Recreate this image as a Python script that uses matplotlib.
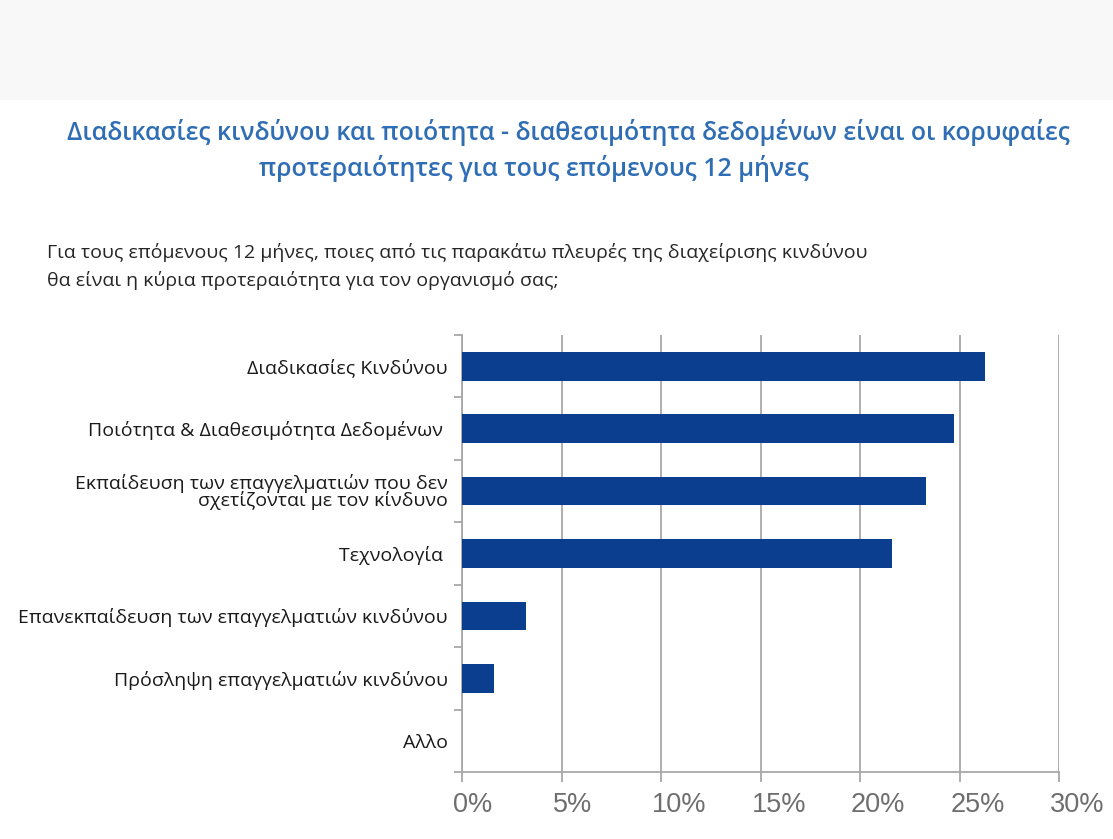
import matplotlib
matplotlib.use("Agg")
import matplotlib.pyplot as plt
import matplotlib.transforms as mtransforms
from matplotlib.patches import Rectangle

# survey answers, top to bottom
categories = [
    "Διαδικασίες Κινδύνου",
    "Ποιότητα & Διαθεσιμότητα Δεδομένων ",
    "Εκπαίδευση των επαγγελματιών που δεν\nσχετίζονται με τον κίνδυνο",
    "Τεχνολογία ",
    "Επανεκπαίδευση των επαγγελματιών κινδύνου",
    "Πρόσληψη επαγγελματιών κινδύνου",
    "Αλλο",
]
shares = [26.3, 24.7, 23.3, 21.6, 3.2, 1.6, 0.0]
xticks = [0, 5, 10, 15, 20, 25, 30]
xtick_labels = ["0%", "5%", "10%", "15%", "20%", "25%", "30%"]

title_lines = [
    "Διαδικασίες κινδύνου και ποιότητα - διαθεσιμότητα δεδομένων είναι οι κορυφαίες",
    "προτεραιότητες για τους επόμενους 12 μήνες",
]
question_lines = [
    "Για τους επόμενους 12 μήνες, ποιες από τις παρακάτω πλευρές της διαχείρισης κινδύνου",
    "θα είναι η κύρια προτεραιότητα για τον οργανισμό σας;",
]

BAR = "#0b3e8e"
TITLE = "#2f6db4"
GRID = "#a8a8a8"

fig = plt.figure(figsize=(11.13, 8.39), dpi=100)
fig.patch.set_facecolor("white")

# pale band across the top
fig.patches.append(Rectangle((0, 1 - 100 / 839), 1, 100 / 839, transform=fig.transFigure,
                             facecolor="#f8f8f8", edgecolor="none", zorder=0))

title_font = dict(family=["Open Sans", "DejaVu Sans"], weight="semibold", color=TITLE, fontsize=17.9)
fig.text(568 / 1113, 1 - 133 / 839, title_lines[0], ha="center", va="center", **title_font)
fig.text(534 / 1113, 1 - 168 / 839, title_lines[1], ha="center", va="center", **title_font)

q_font = dict(family=["Open Sans", "DejaVu Sans"], color="#262626", fontsize=14.0)
fig.text(47 / 1113, 1 - 252 / 839, question_lines[0], ha="left", va="center", **q_font)
fig.text(47 / 1113, 1 - 280 / 839, question_lines[1], ha="left", va="center", **q_font)

ax = fig.add_axes([462 / 1113, 1 - 772 / 839, (1059 - 462) / 1113, (772 - 335) / 839])
ypos = list(range(len(categories)))
ax.barh(ypos, shares, height=0.46, color=BAR, zorder=3)

ax.set_xlim(0, 30)
ax.set_ylim(len(categories) - 0.5, -0.5)

# percentage labels sit just right of their gridline, so place them by hand
ax.set_xticks(xticks)
ax.set_xticklabels([])
lbl_trans = ax.get_xaxis_transform() + mtransforms.ScaledTranslation(-9 / 100, -33 / 100, fig.dpi_scale_trans)
for xv, txt in zip(xticks, xtick_labels):
    ax.text(xv, 0, txt, transform=lbl_trans, ha="left", va="center",
            family=["Liberation Sans", "DejaVu Sans"], fontsize=19.5, color="#6e6e6e")

ax.set_yticks(ypos)
ax.set_yticklabels(categories, family=["Open Sans", "DejaVu Sans"], fontsize=14,
                   color="#1a1a1a", linespacing=0.85)
ax.set_yticks([i - 0.5 for i in range(len(categories) + 1)], minor=True)
ax.tick_params(axis="y", which="major", length=0, pad=10)
ax.tick_params(axis="y", which="minor", length=6, color=GRID, width=1.3)
ax.tick_params(axis="x", length=7, color=GRID, width=1.3)

ax.grid(axis="x", color=GRID, linewidth=1.3, zorder=0)
for side in ("top", "right"):
    ax.spines[side].set_visible(False)
for side in ("left", "bottom"):
    ax.spines[side].set_color(GRID)
    ax.spines[side].set_linewidth(1.3)

fig.savefig("out.png", dpi=100, facecolor="white")
